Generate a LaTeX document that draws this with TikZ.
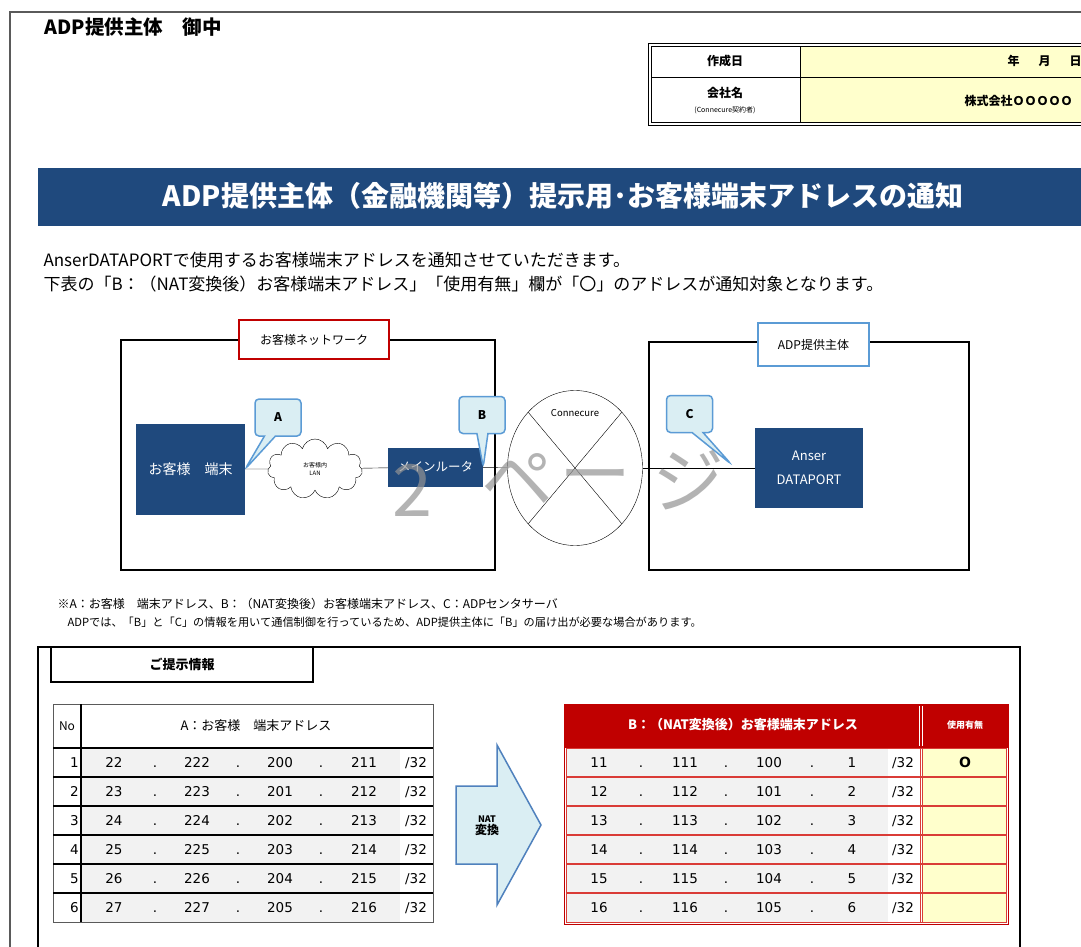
\documentclass[tikz,border=0pt]{standalone}
\usepackage{fontspec}
\setmainfont{Noto Sans CJK JP}
\newfontfamily\numfont{DejaVu Sans}
\usetikzlibrary{shapes.geometric,shapes.symbols,shapes.callouts}

\definecolor{navy}{RGB}{31,73,125}
\definecolor{callfill}{RGB}{218,238,243}
\definecolor{callline}{RGB}{91,155,213}
\definecolor{arrowline}{RGB}{79,129,189}
\definecolor{darkred}{RGB}{192,0,0}
\definecolor{rowred}{RGB}{218,60,55}
\definecolor{pale}{RGB}{255,255,204}
\definecolor{cellgray}{RGB}{242,242,242}
\definecolor{framegray}{RGB}{90,90,90}

\tikzset{
  navybox/.style={fill=navy, text=white, inner sep=0pt, align=center},
  labelbox/.style={fill=white, line width=1.5pt, inner sep=0pt, minimum height=39pt,
    font=\fontsize{12}{12}\selectfont},
  callbox/.style={rectangle callout, rounded corners=4pt, fill=callfill, draw=callline,
    line width=1.5pt, minimum width=46pt, minimum height=37pt, callout pointer width=11pt,
    font=\fontsize{12}{12}\selectfont\bfseries},
  numcell/.style={font=\numfont\fontsize{13.5}{14}\selectfont, inner sep=0pt,
    text height=10pt, text depth=0pt},
  wmark/.style={text=gray!85, opacity=0.7, inner sep=0pt, font=\fontsize{72}{72}\selectfont},
}

\begin{document}
\begin{tikzpicture}[x=1pt, y=-1pt]
  \useasboundingbox (0,0) rectangle (1081,947);
  \clip (0,0) rectangle (1081,947);
  \fill[white] (0,0) rectangle (1081,947);
  \draw[framegray, line width=1.5pt] (10,950) -- (10,12) -- (1090,12);

  % heading
  \node[anchor=west, font=\fontsize{19.5}{20}\selectfont\bfseries] (addressee) at (41,27) {ADP提供主体　御中};

  % date / company table
  \fill[pale] (800,47) rectangle (1090,123);
  \draw[line width=1pt] (648,44) rectangle (1095,126);
  \draw[line width=1pt] (651,47) rectangle (1092,123);
  \draw (651,77) -- (1092,77);
  \draw (800,47) -- (800,123);
  \node[font=\fontsize{12}{12}\selectfont\bfseries] (made) at (725,61) {作成日};
  \node[anchor=west, font=\fontsize{12}{12}\selectfont\bfseries] (date) at (1004,61) {年\hspace{19pt}月\hspace{19pt}日};
  \node[font=\fontsize{12}{12}\selectfont\bfseries] (corp) at (725,93) {会社名};
  \node[font=\fontsize{7}{7}\selectfont] (corpnote) at (725,110) {(Connecure契約者)};
  \node[anchor=west, font=\fontsize{12}{12}\selectfont\bfseries] (corpname) at (961,101) {株式会社ＯＯＯＯＯ};

  % title banner
  \fill[navy] (38,168) rectangle (1090,226);
  \node[text=white, font=\fontsize{28}{28}\selectfont\bfseries] (title) at (563,196) {ADP提供主体（金融機関等）提示用･お客様端末アドレスの通知};

  \node[anchor=west, font=\fontsize{17}{17}\selectfont] (intro1) at (40,260) {AnserDATAPORTで使用するお客様端末アドレスを通知させていただきます。};
  \node[anchor=west, font=\fontsize{17}{17}\selectfont] (intro2) at (40,284) {下表の「B：（NAT変換後）お客様端末アドレス」「使用有無」欄が「〇」のアドレスが通知対象となります。};

  % network diagram
  \draw[line width=1.8pt] (121,340) rectangle (495,570);
  \draw[line width=1.8pt] (649,342) rectangle (969,570);
  \node[labelbox, draw=darkred, minimum width=150pt] (netlabel) at (314,339.5) {お客様ネットワーク};
  \node[labelbox, draw=callline, minimum width=111pt, minimum height=43pt] (adplabel) at (813.5,344.5) {ADP提供主体};

  \node[navybox, minimum width=109pt, minimum height=91pt, font=\fontsize{14}{14}\selectfont] (term) at (190.5,469) {お客様　端末};
  \node[cloud, draw, cloud puffs=11, aspect=1.6, minimum width=95pt, minimum height=60pt,
    inner sep=0pt, align=center, font=\fontsize{6}{8}\selectfont] (lan) at (315,469) {お客様内\\LAN};
  \node[navybox, minimum width=95pt, minimum height=39pt, font=\fontsize{12.5}{13}\selectfont] (router) at (435.5,467) {メインルータ};
  \node[ellipse, draw, minimum width=135pt, minimum height=155pt, inner sep=0pt] (conn) at (575,468) {};
  \node[font=\fontsize{9.5}{10}\selectfont] (connlabel) at (575,413) {Connecure};
  \node[navybox, minimum width=108pt, minimum height=80pt, font=\fontsize{13}{24}\selectfont] (dport) at (809,468) {Anser\\DATAPORT};

  \draw (conn.130) -- (conn.-50);
  \draw (conn.50) -- (conn.-130);
  \draw (term) -- (lan);
  \draw (lan) -- (router);
  \draw (router) -- (conn);
  \draw (conn) -- (dport);

  \coordinate (ctip) at (731,464);
  \node[callbox, callout absolute pointer={(term.east)}] (calla) at (278,417.5) {A};
  \node[callbox, callout absolute pointer={(router.east)}] (callb) at (482,415) {B};
  \node[callbox, callout absolute pointer={(ctip)}] (callc) at (689.5,414) {C};

  % page watermark
  \node[wmark] (wm1) at (412,490) {2};
  \node[wmark] (wm2) at (517,480) {ペ};
  \node[wmark] (wm3) at (595,485) {ー};
  \node[wmark] (wm4) at (688,480) {ジ};

  % notes
  \node[anchor=west, font=\fontsize{12}{12}\selectfont] (note1) at (54,604) {※A：お客様　端末アドレス、B：（NAT変換後）お客様端末アドレス、C：ADPセンタサーバ};
  \node[anchor=west, font=\fontsize{11.2}{12}\selectfont] (note2) at (64,622) {ADPでは、「B」と「C」の情報を用いて通信制御を行っているため、ADP提供主体に「B」の届け出が必要な場合があります。};

  % information section
  \draw[line width=2pt] (38,950) -- (38,647) -- (1020,647) -- (1020,950);
  \node[draw, line width=2pt, minimum width=262pt, minimum height=35pt, inner sep=0pt,
    font=\fontsize{13}{13}\selectfont\bfseries] (infolabel) at (182,664.5) {ご提示情報};

  % table A
  \fill[cellgray] (81,748) rectangle (400,922);
  \draw[framegray, line width=0.8pt] (53,704) rectangle (433,922);
  \foreach \r in {748,777,806,835,864,893}
    \draw[line width=1.2pt] (53,\r) -- (433,\r);
  \draw[line width=1.5pt] (81,704) -- (81,922);
  \node[font=\fontsize{12}{12}\selectfont] (nohead) at (67,726) {No};
  \node[font=\fontsize{13}{13}\selectfont] (ahead) at (256,726) {A：お客様　端末アドレス};
  \foreach \n/\a/\b/\c/\d [evaluate=\n as \yy using 733.5+29*\n] in
      {1/22/222/200/211, 2/23/223/201/212, 3/24/224/202/213,
       4/25/225/203/214, 5/26/226/204/215, 6/27/227/205/216} {
    \node[numcell, anchor=east] (ano\n) at (79,\yy) {\n};
    \node[numcell] (aa\n) at (114,\yy) {\a};
    \node[numcell] at (155,\yy) {.};
    \node[numcell] (ab\n) at (197,\yy) {\b};
    \node[numcell] at (238,\yy) {.};
    \node[numcell] (ac\n) at (280,\yy) {\c};
    \node[numcell] at (321,\yy) {.};
    \node[numcell] (ad\n) at (364,\yy) {\d};
    \node[numcell] (amask\n) at (416,\yy) {/32};
  }

  % NAT arrow
  \filldraw[fill=callfill, draw=arrowline, line width=1.5pt]
    (456,786) -- (497,786) -- (497,745) -- (541,825) -- (497,905) -- (497,864) -- (456,864) -- cycle;
  \node[align=center, font=\bfseries] (nat) at (487,826)
    {{\fontsize{9}{15}\selectfont NAT}\\{\fontsize{12}{14}\selectfont 変換}};

  % table B
  \fill[darkred] (564,704) rectangle (1008,748);
  \fill[cellgray] (566,748) rectangle (888,922);
  \fill[pale] (922,748) rectangle (1006,922);
  \foreach \r in {777,806,835,864,893}
    \draw[rowred, line width=1.2pt] (566,\r) -- (1006,\r);
  \draw[rowred, line width=1pt] (566,748) rectangle (1006,922);
  \draw[rowred, line width=1pt] (920,748) -- (920,922);
  \draw[rowred, line width=1pt] (922.5,748) -- (922.5,922);
  \draw[darkred, line width=0.8pt] (564,704) rectangle (1008,924);
  \draw[white, line width=0.8pt] (919.5,706) -- (919.5,746);
  \draw[white, line width=0.8pt] (922.5,706) -- (922.5,746);
  \node[text=white, font=\fontsize{13}{13}\selectfont\bfseries] (bhead) at (743,725) {B：（NAT変換後）お客様端末アドレス};
  \node[text=white, font=\fontsize{9}{9}\selectfont\bfseries] (usehead) at (965,725) {使用有無};
  \foreach \n/\a/\b/\c/\d [evaluate=\n as \yy using 733.5+29*\n] in
      {1/11/111/100/1, 2/12/112/101/2, 3/13/113/102/3,
       4/14/114/103/4, 5/15/115/104/5, 6/16/116/105/6} {
    \node[numcell] (ba\n) at (599,\yy) {\a};
    \node[numcell] at (641,\yy) {.};
    \node[numcell] (bb\n) at (685,\yy) {\b};
    \node[numcell] at (726,\yy) {.};
    \node[numcell] (bc\n) at (769,\yy) {\c};
    \node[numcell] at (812,\yy) {.};
    \node[numcell] (bd\n) at (852,\yy) {\d};
    \node[numcell] (bmask\n) at (903,\yy) {/32};
  }
  \node[numcell, font=\numfont\fontsize{14}{14}\selectfont\bfseries] (used1) at (965,762) {O};
\end{tikzpicture}
\end{document}
